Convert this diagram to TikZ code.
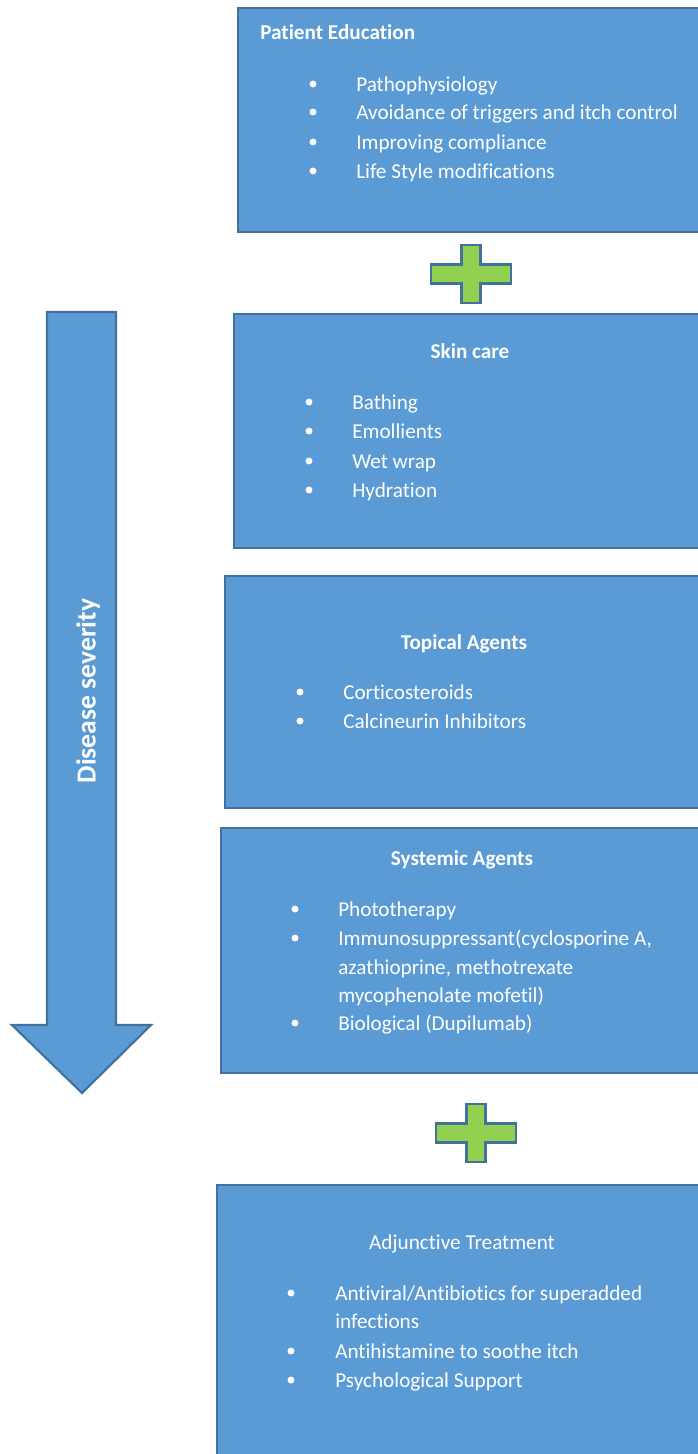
\documentclass[tikz,border=0pt]{standalone}
\usepackage{fontspec}
\setmainfont[Ligatures=NoCommon]{Carlito}
\usetikzlibrary{positioning}

\definecolor{boxFill}{RGB}{91,155,213}
\definecolor{boxLine}{RGB}{65,113,156}
\definecolor{plusFill}{RGB}{146,208,80}

\begin{document}
\begin{tikzpicture}[x=0.75pt,y=-0.75pt,
  stage/.style={draw=boxLine,fill=boxFill,line width=1.6pt},
  plus/.style={draw=boxLine,fill=plusFill,line width=2pt},
  head/.style={font=\fontsize{15.9}{19}\selectfont\bfseries,text=white,inner sep=0pt,anchor=base},
  entry/.style={font=\fontsize{15.9}{19}\selectfont,text=white,inner sep=0pt,anchor=base west},
  bul/.style={circle,fill=white,inner sep=0pt,minimum size=5.2pt}]
\useasboundingbox (0,0) rectangle (697,1454);

% severity arrow
\draw[stage] (47,312) -- (116,312) -- (116,1025) -- (151,1025) -- (82,1093) -- (12,1025) -- (47,1025) -- cycle;
\node[head,anchor=center,rotate=90,font=\fontsize{20.7}{24}\selectfont\bfseries] (sev) at (88,691) {Disease severity};

% stage boxes
\draw[stage] (238,8) rectangle (705,232);
\draw[stage] (234,314) rectangle (705,548);
\draw[stage] (225,576) rectangle (705,808);
\draw[stage] (221,828) rectangle (705,1073);
\draw[stage] (217,1185) rectangle (705,1470);

% plus signs
\foreach \cx/\cy in {471/274,476/1133}
  \draw[plus,shift={(\cx,\cy)}] (-40,-9.5) -- (-9.5,-9.5) -- (-9.5,-29) -- (9.5,-29) -- (9.5,-9.5) -- (40,-9.5) -- (40,9.5) -- (9.5,9.5) -- (9.5,29) -- (-9.5,29) -- (-9.5,9.5) -- (-40,9.5) -- cycle;

% patient education
\node[head,anchor=base west] (edu) at (260,39) {Patient Education};
\foreach \y/\txt in {84/Pathophysiology,112/Avoidance of triggers and itch control,142/Improving compliance,171/Life Style modifications} {
  \node[bul] (edub-\y) at (313,\y) {};
  \node[entry] (edu-\y) at (356,\y+7) {\txt};
}

% skin care
\node[head] (skin) at (470,358) {Skin care};
\foreach \y/\txt in {402/Bathing,431/Emollients,461/Wet wrap,490/Hydration} {
  \node[bul] (skinb-\y) at (309,\y) {};
  \node[entry] (skin-\y) at (352,\y+7) {\txt};
}

% topical agents
\node[head] (top) at (464,649) {Topical Agents};
\foreach \y/\txt in {692/Corticosteroids,721/Calcineurin Inhibitors} {
  \node[bul] (topb-\y) at (300,\y) {};
  \node[entry] (top-\y) at (343,\y+7) {\txt};
}

% systemic agents
\node[head] (sys) at (462,865) {Systemic Agents};
\foreach \y/\txt in {909/Phototherapy,938/{Immunosuppressant(cyclosporine A,},967/azathioprine{,} methotrexate,995/mycophenolate mofetil),1023/Biological (Dupilumab)}
  \node[entry] (sys-\y) at (338,\y+7) {\txt};
\foreach \y in {909,938,1023}
  \node[bul] (sysb-\y) at (295,\y) {};

% adjunctive treatment
\node[head,font=\fontsize{15.9}{19}\selectfont] (adj) at (462,1249) {Adjunctive Treatment};
\foreach \y/\txt in {1293/{Antiviral/Antibiotics for superadded},1321/infections,1351/Antihistamine to soothe itch,1380/Psychological Support}
  \node[entry] (adj-\y) at (335,\y+7) {\txt};
\foreach \y in {1293,1351,1380}
  \node[bul] (adjb-\y) at (291,\y) {};
\end{tikzpicture}
\end{document}
